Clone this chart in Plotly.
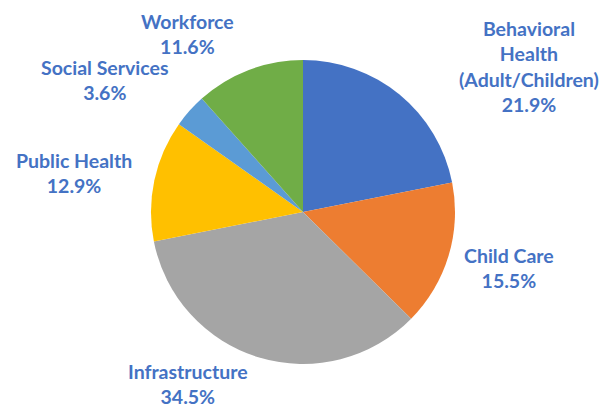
import plotly.graph_objects as go

categories = ["Behavioral<br>Health<br>(Adult/Children)", "Child Care", "Infrastructure",
              "Public Health", "Social Services", "Workforce"]
values = [21.9, 15.5, 34.5, 12.9, 3.6, 11.6]
colors = ["#4472C4", "#ED7D31", "#A5A5A5", "#FFC000", "#5B9BD5", "#70AD47"]

# label centers in pixels (x, y from top)
label_pos = [(529, 66), (509, 268), (188, 384), (74, 173), (105, 80), (187, 34)]

W, H = 607, 407
cx, cy, r = 303, 212, 152

fig = go.Figure(go.Pie(
    labels=categories, values=values, sort=False, direction="clockwise", rotation=0,
    marker=dict(colors=colors, line=dict(width=0)),
    textinfo="none", hoverinfo="label+percent", showlegend=False,
    domain=dict(x=[(cx - r) / W, (cx + r) / W], y=[(H - cy - r) / H, (H - cy + r) / H]),
))

for lab, v, (px, py) in zip(categories, values, label_pos):
    fig.add_annotation(
        x=px / W, y=1 - py / H, xref="paper", yref="paper",
        text=f"{lab}<br>{v:.1f}%", showarrow=False, xanchor="center", yanchor="middle",
        font=dict(family="Lato", size=19.5, color="#4472C4", weight="bold"), align="center",
    )

fig.update_layout(width=W, height=H, margin=dict(l=0, r=0, t=0, b=0),
                  paper_bgcolor="white", plot_bgcolor="white")
fig.write_html("out.html", config={"displayModeBar": False},
               post_script="document.body.style.margin='0';document.body.style.overflow='hidden';")
